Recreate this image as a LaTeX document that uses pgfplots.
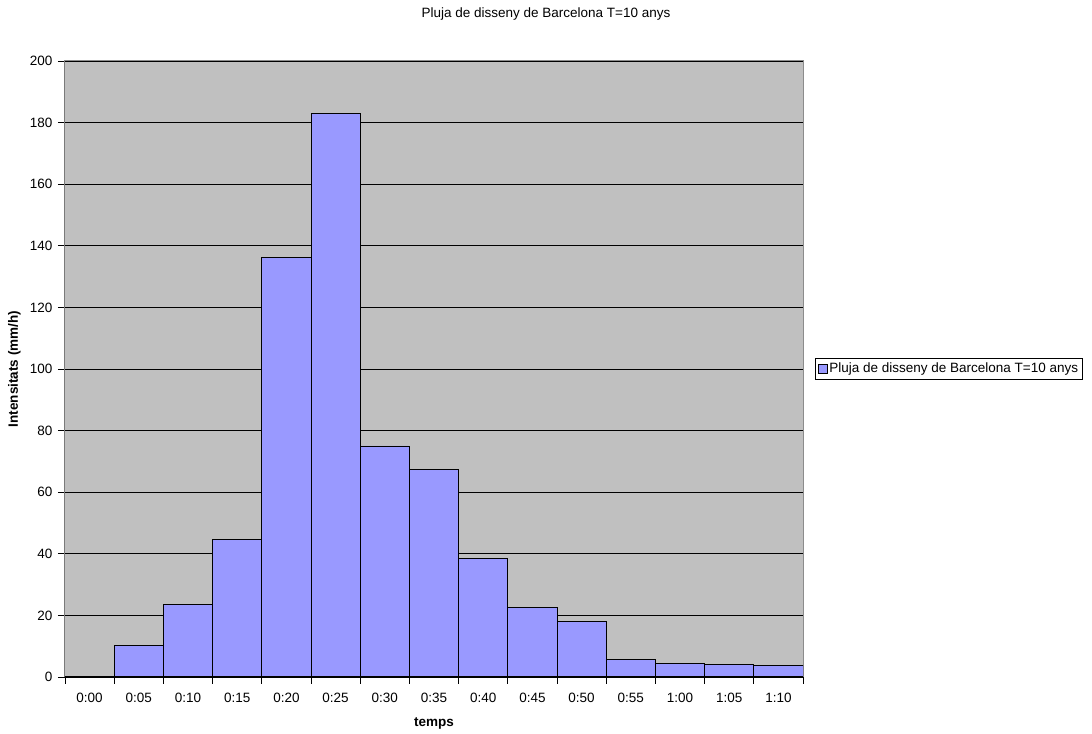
\documentclass[border=0pt]{standalone}
\usepackage{fontspec}
\setmainfont{Liberation Sans}
\usepackage{pgfplots}
\pgfplotsset{compat=1.18}
\definecolor{barfill}{RGB}{153,153,255}
\definecolor{plotbg}{RGB}{192,192,192}
\begin{document}
\fontsize{13.5}{16}\selectfont
\begin{tikzpicture}
\path (0,0) rectangle (1092pt,733pt);
\begin{axis}[
  at={(65pt,56pt)}, anchor=south west,
  scale only axis, width=738pt, height=616pt,
  xmin=-0.5, xmax=14.5, ymin=0, ymax=200,
  ytick={0,20,...,200},
  xtick={0,...,14},
  xticklabels={0:00,0:05,0:10,0:15,0:20,0:25,0:30,0:35,0:40,0:45,0:50,0:55,1:00,1:05,1:10},
  minor xtick={-0.5,0.5,...,14.5},
  major tick length=7pt,
  minor tick length=7pt,
  tick align=outside,
  xtick pos=bottom, ytick pos=left,
  major x tick style={draw=none},
  major y tick style={black, thick},
  minor x tick style={black, thick},
  ymajorgrids, grid style={black, line width=0.9pt},
  axis background/.style={fill=plotbg},
  axis line style={draw=gray!90, line width=1pt},
  /pgf/number format/assume math mode=true,
  ticklabel style={font=\fontsize{13.5}{16}\selectfont},
  xticklabel style={yshift=-4pt},
  yticklabel style={xshift=-1pt},
  xlabel={\textbf{temps}}, ylabel={\textbf{Intensitats (mm/h)}},
  xlabel style={yshift=-6pt},
  ybar, bar width=1, bar shift=0pt,
  legend style={at={(1.016,0.5)}, anchor=west, draw=black, line width=0.9pt,
    font=\fontsize{13.5}{16}\selectfont, inner sep=2.5pt},
  legend image code/.code={\draw[fill=barfill, draw=black, line width=0.6pt] (0pt,-4pt) rectangle (9pt,5pt);},
]
\addplot[fill=barfill, draw=black, line width=0.9pt] coordinates {
(0,0) (1,10.1) (2,23.4) (3,44.8) (4,136.1) (5,183.0) (6,75.0) (7,67.5)
(8,38.6) (9,22.5) (10,17.9) (11,5.7) (12,4.5) (13,4.1) (14,3.7)};
\addlegendentry{Pluja de disseny de Barcelona T=10 anys}
\draw[black, line width=1pt] (rel axis cs:0,0) -- (rel axis cs:0,1);
\draw[black, line width=1pt] (rel axis cs:0,0) -- (rel axis cs:1,0);
\end{axis}
\node at (546pt,719pt) {Pluja de disseny de Barcelona T=10 anys};
\end{tikzpicture}
\end{document}
